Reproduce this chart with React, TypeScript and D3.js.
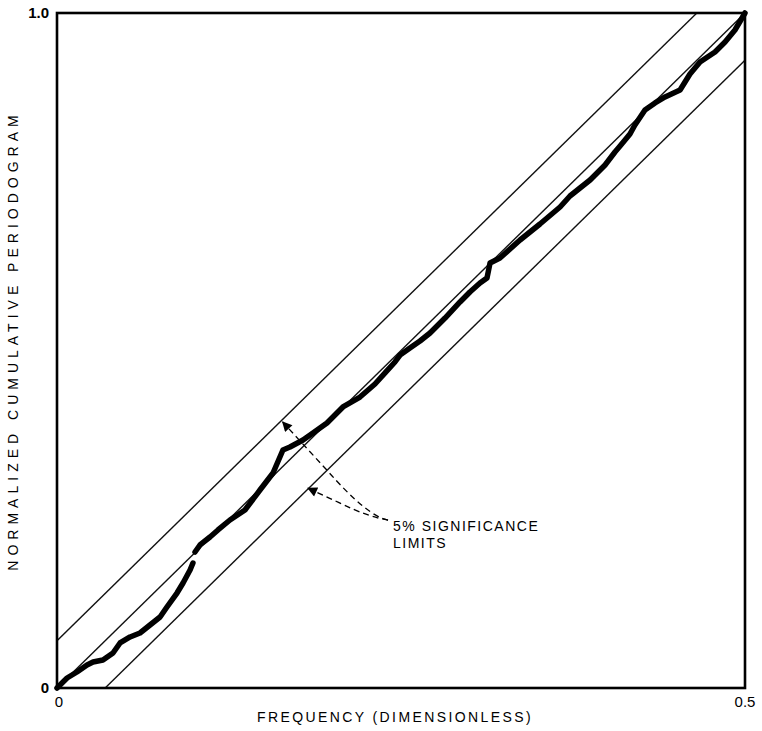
import * as d3 from 'd3';
import { useRef, useEffect } from 'react';

// cumulative periodogram (two pieces, with a jump between them)
const freqA = [0, 0.0073, 0.0145, 0.0218, 0.0262, 0.0334, 0.0407, 0.0458, 0.0531, 0.0603, 0.0676, 0.0749, 0.0799, 0.0872, 0.0916, 0.0967, 0.0988];
const cumA = [0, 0.0148, 0.0237, 0.0341, 0.0385, 0.0415, 0.0519, 0.0667, 0.0756, 0.0815, 0.0933, 0.1052, 0.12, 0.1407, 0.1556, 0.1748, 0.1852];

const freqB = [0.1003, 0.1039, 0.1112, 0.117, 0.1257, 0.1366, 0.1475, 0.157, 0.1642, 0.1693, 0.1788, 0.186, 0.1962, 0.2078, 0.2202, 0.2311, 0.2384, 0.2456, 0.2493, 0.2565, 0.2638, 0.2711, 0.282, 0.2929, 0.3001, 0.3074, 0.3125, 0.3147, 0.3219, 0.3365, 0.351, 0.3656, 0.3728, 0.3801, 0.3874, 0.3983, 0.4055, 0.4092, 0.4164, 0.42, 0.4273, 0.4346, 0.4419, 0.4528, 0.46, 0.4673, 0.4782, 0.4855, 0.4927, 0.5];
const cumB = [0.2015, 0.2119, 0.2237, 0.2341, 0.2489, 0.2637, 0.2933, 0.3185, 0.3526, 0.357, 0.3674, 0.3778, 0.3926, 0.4163, 0.4311, 0.4504, 0.4667, 0.483, 0.4933, 0.5037, 0.5141, 0.5259, 0.5481, 0.5719, 0.5867, 0.6, 0.6074, 0.6296, 0.637, 0.6637, 0.6874, 0.7126, 0.7289, 0.7407, 0.7526, 0.7748, 0.7941, 0.803, 0.8207, 0.8341, 0.8563, 0.8667, 0.8756, 0.8859, 0.9096, 0.9274, 0.9422, 0.957, 0.9748, 1.0];

// significance band offset around the diagonal
const limitOffset = 0.07;

const xTicks = [0, 0.5];
const xTickLabels = ['0', '0.5'];
const yTicks = [0, 1];
const yTickLabels = ['0', '1.0'];

const xTitle = 'FREQUENCY (DIMENSIONLESS)';
const yTitle = 'NORMALIZED CUMULATIVE PERIODOGRAM';
const noteLines = ['5% SIGNIFICANCE', 'LIMITS'];

// annotation anchors in data units
const arrowUpper = { f: 0.164, c: 0.394 };
const arrowLower = { f: 0.1824, c: 0.296 };
const arrowJoin = { f: 0.2275, c: 0.2533 };

const App = () => {
  const ref = useRef<SVGSVGElement>(null);
  const width = 762;
  const height = 731;
  const margin = { top: 13, right: 17, bottom: 43, left: 57 };

  useEffect(() => {
    const svg = d3.select(ref.current);
    svg.selectAll('*').remove();

    const x = d3.scaleLinear().domain([0, 0.5]).range([margin.left, width - margin.right]);
    const y = d3.scaleLinear().domain([0, 1]).range([height - margin.bottom, margin.top]);
    const font = 'Liberation Sans, Arial, Helvetica, sans-serif';

    const g = svg.append('g');

    // clip for the limit lines
    svg
      .append('clipPath')
      .attr('id', 'plot-clip')
      .append('rect')
      .attr('x', x(0))
      .attr('y', y(1))
      .attr('width', x(0.5) - x(0))
      .attr('height', y(0) - y(1));

    const lines = g.append('g').attr('clip-path', 'url(#plot-clip)');
    const diag = (off: number) =>
      d3.line<number>()
        .x((f) => x(f))
        .y((f) => y(2 * f + off))([-0.1, 0.6]);

    [-limitOffset, 0, limitOffset].forEach((off) => {
      lines
        .append('path')
        .attr('d', diag(off))
        .attr('fill', 'none')
        .attr('stroke', '#111')
        .attr('stroke-width', 1.4);
    });

    // the periodogram curve
    const curve = d3
      .line<[number, number]>()
      .x((d) => x(d[0]))
      .y((d) => y(d[1]));
    [
      d3.zip(freqA, cumA) as [number, number][],
      d3.zip(freqB, cumB) as [number, number][],
    ].forEach((seg) => {
      g.append('path')
        .attr('d', curve(seg))
        .attr('fill', 'none')
        .attr('stroke', '#000')
        .attr('stroke-width', 5.5)
        .attr('stroke-linejoin', 'round')
        .attr('stroke-linecap', 'round');
    });

    // frame
    g.append('rect')
      .attr('x', x(0))
      .attr('y', y(1))
      .attr('width', x(0.5) - x(0))
      .attr('height', y(0) - y(1))
      .attr('fill', 'none')
      .attr('stroke', '#000')
      .attr('stroke-width', 2.6);

    // tick labels
    g.selectAll('.xt')
      .data(xTicks)
      .join('text')
      .attr('x', (d) => x(d) + (d === 0 ? 2 : 0))
      .attr('y', y(0) + 19)
      .attr('text-anchor', 'middle')
      .attr('font-family', font)
      .attr('font-size', 15)
      .attr('fill', '#000')
      .text((_, i) => xTickLabels[i]);

    g.selectAll('.yt')
      .data(yTicks)
      .join('text')
      .attr('x', x(0) - 8)
      .attr('y', (d) => y(d) + 5)
      .attr('text-anchor', 'end')
      .attr('font-family', font)
      .attr('font-size', 15)
      .attr('font-weight', 'bold')
      .attr('fill', '#000')
      .text((_, i) => yTickLabels[i]);

    // axis titles
    g.append('text')
      .attr('x', 395)
      .attr('y', height - 9)
      .attr('text-anchor', 'middle')
      .attr('font-family', font)
      .attr('font-size', 14)
      .attr('letter-spacing', 2.4)
      .attr('fill', '#000')
      .text(xTitle);

    g.append('text')
      .attr('transform', `translate(18, ${(y(0) + y(1)) / 2 - 10}) rotate(-90)`)
      .attr('text-anchor', 'middle')
      .attr('font-family', font)
      .attr('font-size', 14)
      .attr('letter-spacing', 5)
      .attr('fill', '#000')
      .text(yTitle);

    // annotation
    g.append('text')
      .attr('font-family', font)
      .attr('font-size', 14)
      .attr('letter-spacing', 1.5)
      .attr('fill', '#000')
      .selectAll('tspan')
      .data(noteLines)
      .join('tspan')
      .attr('x', x(arrowJoin.f) + 23)
      .attr('y', (_, i) => y(arrowJoin.c) + 14 + i * 17)
      .text((d) => d);

    svg
      .append('defs')
      .append('marker')
      .attr('id', 'arrowhead')
      .attr('viewBox', '0 0 10 10')
      .attr('refX', 9)
      .attr('refY', 5)
      .attr('markerWidth', 12)
      .attr('markerHeight', 10)
      .attr('markerUnits', 'userSpaceOnUse')
      .attr('orient', 'auto')
      .append('path')
      .attr('d', 'M0,0 L10,5 L0,10 Z')
      .attr('fill', '#000');

    const jx = x(arrowJoin.f);
    const jy = y(arrowJoin.c);
    const tx = jx + 18;
    const ty = jy + 3;
    [arrowUpper, arrowLower].forEach((a) => {
      const ax = x(a.f);
      const ay = y(a.c);
      g.append('path')
        .attr('d', `M${tx},${ty} Q${jx - 2},${jy} ${(jx + ax) / 2},${(jy + ay) / 2} L${ax},${ay}`)
        .attr('fill', 'none')
        .attr('stroke', '#000')
        .attr('stroke-width', 1.3)
        .attr('stroke-dasharray', '6 4')
        .attr('marker-end', 'url(#arrowhead)');
    });
  }, []);

  return (
    <svg
      ref={ref}
      width={width}
      height={height}
      style={{ position: 'absolute', left: 0, top: 0, background: '#fff' }}
    />
  );
};

export default App;
